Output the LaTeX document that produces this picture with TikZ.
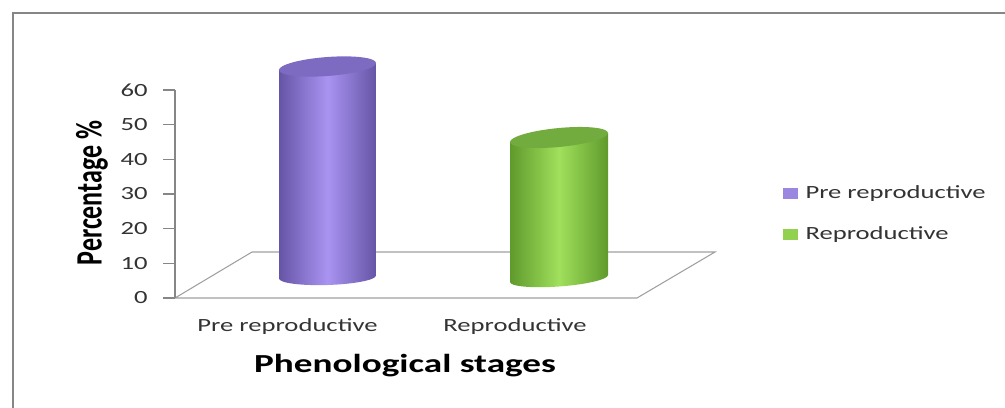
\documentclass[tikz,border=0pt]{standalone}
\usepackage{fontspec}
\setmainfont{Carlito}
\usepackage{xcolor}
\usepackage{tikz}

\definecolor{tim}{HTML}{A994F2}
\definecolor{timdam}{HTML}{6655A6}
\definecolor{timnap}{HTML}{7C6BC0}
\definecolor{timchu}{HTML}{9B86E0}
\definecolor{xanh}{HTML}{A0E05C}
\definecolor{xanhdam}{HTML}{5F9A2C}
\definecolor{xanhnap}{HTML}{72AC3E}
\definecolor{xanhchu}{HTML}{92D050}
\definecolor{vien}{HTML}{868686}

\begin{document}
\begin{tikzpicture}[x=0.02cm, y=-0.02cm,
    chu/.style={font=\fontsize{10.6}{12}\selectfont, text=black!80, xscale=1.43, transform shape, inner sep=0pt},
    tieude/.style={font=\fontsize{14.8}{17}\selectfont\bfseries, xscale=1.43, transform shape, inner sep=0pt}]
    \useasboundingbox (0,0) rectangle (1005,408);

    % Khung
    \draw[vien, line width=0.05cm] (13,408) -- (13,13) -- (1005,13);

    % Mặt đáy
    \draw[gray!75, line width=0.6pt] (175,298) -- (252,252) -- (715,252) -- (637,298) -- cycle;

    % Trục tung
    \coordinate (o) at (175,298);
    \coordinate (t6) at (175,90);
    \draw[vien, line width=0.6pt] (o) -- (t6);
    \draw[vien, line width=0.6pt] (163,90) -- (175,90) (163,124.7) -- (175,124.7) (163,159.3) -- (175,159.3)
        (163,194) -- (175,194) (163,228.7) -- (175,228.7) (163,263.3) -- (175,263.3) (163,298) -- (175,298);

    \node (y6) [chu, anchor=east] at (148,90) {60};
    \node (y5) [chu, anchor=east] at (148,124.7) {50};
    \node (y4) [chu, anchor=east] at (148,159.3) {40};
    \node (y3) [chu, anchor=east] at (148,194) {30};
    \node (y2) [chu, anchor=east] at (148,228.7) {20};
    \node (y1) [chu, anchor=east] at (148,263.3) {10};
    \node (y0) [chu, anchor=east] at (148,298) {0};
    \node (ylab) [tieude, rotate=90] at (92,193) {Percentage \%};

    % Hình trụ thứ nhất
    \shade[left color=timdam, right color=timdam, middle color=tim] (279,70) -- (279,278.5) -- (376,275.5) -- (376,63) -- cycle;
    \begin{scope}[shift={(327.5,277)}, yslant=0.031]
        \shade[left color=timdam, right color=timdam, middle color=tim] (0,0) ellipse [x radius=48.5, y radius=8];
    \end{scope}
    \begin{scope}[shift={(327.5,66.5)}, yslant=0.072]
        \fill[timnap] (0,0) ellipse [x radius=48.5, y radius=9.5];
    \end{scope}

    % Hình trụ thứ hai
    \shade[left color=xanhdam, right color=xanhdam, middle color=xanh] (510,142) -- (510,282) -- (608,275) -- (608,133) -- cycle;
    \begin{scope}[shift={(559,278.5)}, yslant=0.071]
        \shade[left color=xanhdam, right color=xanhdam, middle color=xanh] (0,0) ellipse [x radius=49, y radius=8];
    \end{scope}
    \begin{scope}[shift={(559,137.5)}, yslant=0.092]
        \fill[xanhnap] (0,0) ellipse [x radius=49, y radius=9.5];
    \end{scope}

    % Nhãn trục hoành
    \node (x1) [chu] at (287.5,327) {Pre reproductive};
    \node (x2) [chu] at (515,327) {Reproductive};
    \node (xlab) [tieude] at (405,366) {Phenological stages};

    % Chú thích
    \node (c1) [fill=timchu, minimum width=0.3cm, minimum height=0.22cm, inner sep=0pt] at (790.5,193.5) {};
    \node (c2) [fill=xanhchu, minimum width=0.3cm, minimum height=0.22cm, inner sep=0pt] at (790.5,235) {};
    \node (l1) [chu, anchor=west] at (805,193.5) {Pre reproductive};
    \node (l2) [chu, anchor=west] at (805,235) {Reproductive};
\end{tikzpicture}
\end{document}
